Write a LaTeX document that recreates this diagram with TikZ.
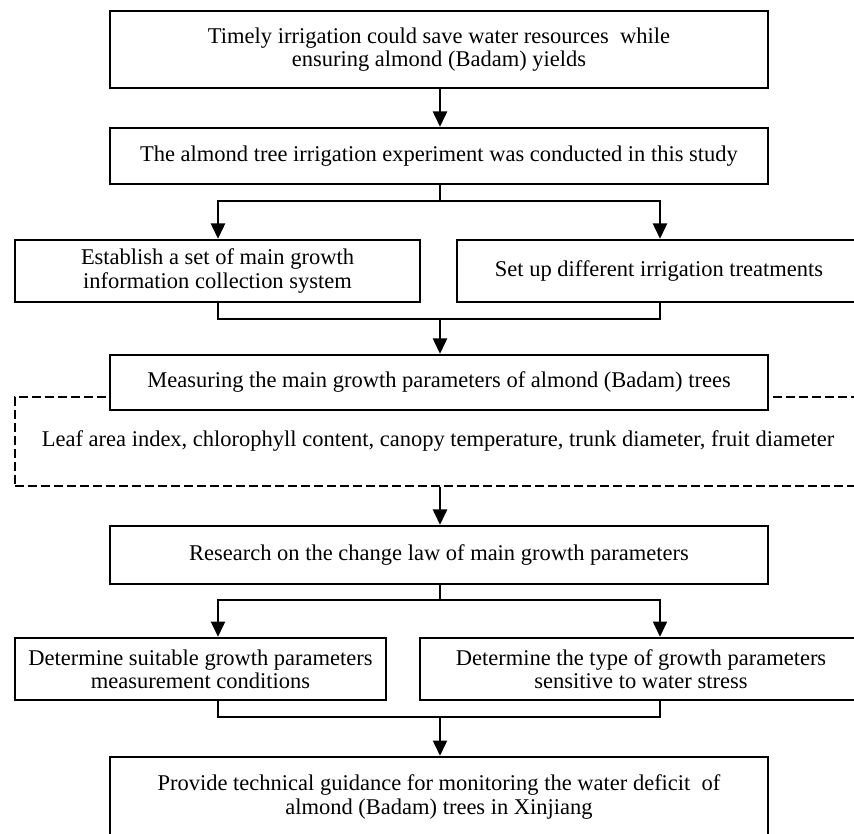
\documentclass[tikz,border=0pt]{standalone}
\usepackage{fontspec}
\setmainfont{Liberation Serif}
\usetikzlibrary{arrows.meta, calc}

\begin{document}
\begin{tikzpicture}[x=0.3mm, y=-0.3mm, line join=miter,
    box/.style={draw, line width=2pt, fill=white, align=center, inner sep=0pt,
        font=\fontsize{19.2}{19.8}\selectfont},
    dashbox/.style={box, dash pattern=on 2.8mm off 1.1mm},
    link/.style={line width=2pt},
    flow/.style={link, -{Triangle[width=4.2mm, length=4.6mm]}}]
    % page size of the original figure (854 x 834 px)
    \useasboundingbox (0,0) rectangle (854,834);
    \clip (0,0) rectangle (854,834);

    % columns of the branching arrows
    \coordinate (cl) at (218,0);
    \coordinate (cm) at (440,0);
    \coordinate (cr) at (660,0);

    % main boxes
    \node[box, minimum width=197.4mm, minimum height=23.1mm] (aim) at (439,49.5)
        {Timely irrigation could save water resources~ while\\ ensuring almond (Badam) yields};
    \node[box, minimum width=197.4mm, minimum height=16.8mm] (exp) at (439,156)
        {The almond tree irrigation experiment was conducted in this study};
    \node[box, minimum width=121.5mm, minimum height=18.6mm] (estab) at (217.5,271)
        {Establish a set of main growth\\ information collection system};
    \node[box, minimum width=121.2mm, minimum height=18.6mm] (setup) at (659,271)
        {Set up different irrigation treatments};

    % dashed frame sits behind the measuring box
    \node[dashbox, minimum width=253.8mm, minimum height=26.7mm] (params) at (438,441.5)
        {Leaf area index, chlorophyll content, canopy temperature, trunk diameter, fruit diameter};
    \node[box, minimum width=197.4mm, minimum height=16.5mm] (measure) at (439,382.5)
        {Measuring the main growth parameters of almond (Badam) trees};

    \node[box, minimum width=197.4mm, minimum height=17.4mm] (research) at (439,555)
        {Research on the change law of main growth parameters};
    \node[box, minimum width=111.3mm, minimum height=18.6mm] (det1) at (200.5,669)
        {Determine suitable growth parameters\\ measurement conditions};
    \node[box, minimum width=132.6mm, minimum height=18.6mm] (det2) at (641,669)
        {Determine the type of growth parameters\\ sensitive to water stress};
    \node[box, minimum width=197.4mm, minimum height=24mm] (final) at (439,797)
        {Provide technical guidance for monitoring the water deficit~ of\\ almond (Badam) trees in Xinjiang};

    % fork and join points
    \coordinate (fork1) at ($(exp.south -| cm)+(0,16)$);
    \coordinate (join1) at ($(estab.south -| cm)+(0,16)$);
    \coordinate (fork2) at ($(research.south -| cm)+(0,15)$);
    \coordinate (join2) at ($(det1.south -| cm)+(0,16)$);

    % connectors
    \draw[flow] (aim.south -| cm) -- (exp.north -| cm);
    \draw[link] (exp.south -| cm) -- (fork1);
    \draw[flow] (fork1) -| (estab.north -| cl);
    \draw[flow] (fork1) -| (setup.north -| cr);
    \draw[link] (estab.south -| cl) |- (join1) -| (setup.south -| cr);
    \draw[flow] (join1) -- (measure.north -| cm);
    \draw[flow] (params.south -| cm) -- (research.north -| cm);
    \draw[link] (research.south -| cm) -- (fork2);
    \draw[flow] (fork2) -| (det1.north -| cl);
    \draw[flow] (fork2) -| (det2.north -| cr);
    \draw[link] (det1.south -| cl) |- (join2) -| (det2.south -| cr);
    \draw[flow] (join2) -- (final.north -| cm);
\end{tikzpicture}
\end{document}
